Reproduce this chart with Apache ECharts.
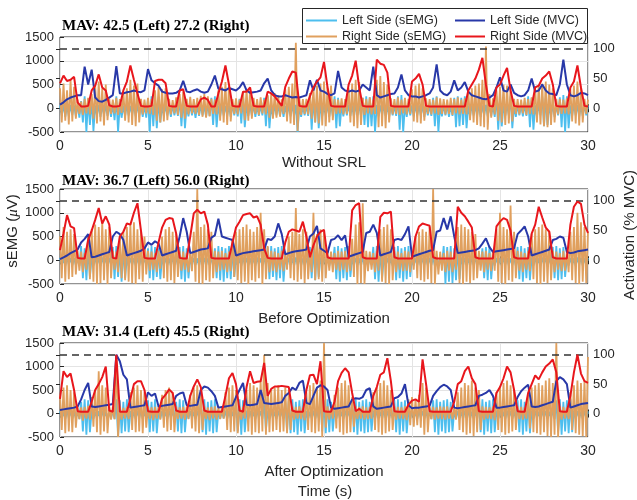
<!DOCTYPE html>
<html>
<head>
<meta charset="utf-8">
<script src="https://cdn.jsdelivr.net/npm/echarts@6/dist/echarts.min.js"></script>
<style>
  html, body { margin: 0; padding: 0; background: #fff; }
  #chart { width: 637px; height: 500px; }
</style>
</head>
<body>
<div id="chart"></div>
<script>
// Sampling steps (seconds) of the stored traces
const semgStep = 0.1;
const mvcStep = 0.2;
const mvcReference = 100; // 100 % MVC reference level

const panelLabels = ['Without SRL', 'Before Optimization', 'After Optimization'];
const mavLeft = [42.5, 36.7, 31.4];
const mavRight = [27.2, 56.0, 45.5];

// ---- Without SRL ----
const semgLeftNoSrl = [
  60,-150,80,-180,50,-160,70,-140,60,-170,
  80,-200,150,-300,250,-500,200,-350,220,-480,
  60,-150,70,-180,50,-140,60,-160,80,-180,
  100,-250,250,-500,80,-200,60,-160,70,-150,
  50,-140,60,-170,80,-150,60,-180,70,-200,
  200,-500,250,-380,220,-420,180,-300,60,-160,
  70,-150,60,-180,80,-150,60,-160,200,-380,
  250,-420,60,-170,80,-150,50,-200,60,-160,
  70,-150,60,-180,80,-160,220,-350,250,-400,
  60,-170,70,-150,50,-160,60,-180,80,-150,
  60,-170,200,-320,250,-400,70,-160,60,-150,
  80,-180,60,-160,70,-150,220,-380,250,-420,
  60,-170,80,-150,60,-160,70,-180,50,-150,
  60,-170,80,-160,70,-500,60,-180,50,-150,
  60,-160,250,-450,200,-300,240,-420,70,-170,
  60,-150,80,-180,70,-160,250,-420,220,-380,
  60,-170,70,-150,80,-160,60,-180,70,-150,
  60,-160,220,-350,250,-400,230,-380,250,-500,
  70,-170,60,-150,80,-160,60,-180,70,-150,
  60,-160,250,-450,280,-500,60,-180,70,-150,
  60,-170,80,-150,60,-160,70,-180,50,-150,
  60,-160,220,-380,250,-500,60,-170,80,-150,
  70,-180,60,-160,220,-400,250,-380,220,-350,
  250,-420,60,-170,80,-150,60,-160,70,-180,
  60,-150,70,-170,80,-160,60,-180,250,-450,
  220,-380,60,-160,70,-150,250,-420,60,-180,
  70,-150,60,-170,80,-160,250,-400,220,-450,
  60,-170,80,-150,250,-380,220,-350,60,-160,
  70,-180,60,-150,230,-400,280,-500,250,-420,
  60,-160,80,-150,70,-180,60,-160,80,-150,
  60
];
const semgRightNoSrl = [
  420,-300,520,-260,380,-340,600,-280,450,-220,
  180,-120,140,-140,200,-110,220,-130,300,-220,
  480,-320,560,-280,420,-360,500,-250,200,-120,
  180,-110,220,-140,190,-100,350,-260,420,-300,
  600,-350,480,-380,520,-300,200,-130,180,-110,
  220,-120,190,-140,380,-260,450,-300,400,-280,
  420,-250,200,-130,170,-110,230,-140,300,-200,
  350,-220,200,-130,240,-110,190,-120,220,-140,
  260,-180,300,-200,250,-170,200,-120,180,-130,
  380,-260,450,-300,550,-350,480,-280,190,-120,
  210,-130,180,-110,350,-250,400,-260,380,-220,
  220,-120,190,-140,230,-110,180,-130,280,-200,
  300,-220,320,-200,280,-180,190,-120,400,-280,
  450,-320,520,-350,1380,-480,210,-140,190,-120,
  200,-130,320,-220,420,-300,480,-320,520,-360,
  560,-380,450,-300,480,-250,190,-120,180,-110,
  210,-130,190,-120,420,-300,520,-380,600,-420,
  550,-350,220,-140,190,-110,230,-130,180,-120,
  600,-400,680,-380,550,-420,500,-300,210,-130,
  190,-120,230,-140,180,-110,220,-130,200,-120,
  400,-280,480,-300,520,-320,420,-260,210,-120,
  190,-130,180,-110,230,-140,210,-120,190,-130,
  180,-120,220,-140,190,-110,230,-130,180,-120,
  210,-130,350,-250,420,-300,480,-350,520,-380,
  600,-400,1300,-450,300,-200,210,-130,380,-260,
  450,-300,500,-350,480,-320,420,-280,200,-120,
  190,-130,180,-110,220,-140,190,-120,230,-130,
  420,-300,480,-340,520,-380,560,-400,500,-350,
  420,-300,200,-130,190,-120,180,-110,210,-130,
  400,-280,480,-320,560,-360,450,-300,200,-120,
  180
];
const mvcLeftNoSrl = [
  6,10,15,18,20, 22,22,70,40,65, 18,12,11,14,18, 22,71,25,25,27,
  28,30,28,27,30, 66,47,42,38,28, 26,25,25,26,30, 46,28,27,30,32,
  28,26,28,40,55, 33,32,30,34,32, 30,35,44,30,26, 27,28,30,42,50,
  30,22,20,20,22, 20,18,19,18,20, 22,47,30,48,30, 28,24,22,25,63,
  35,30,28,30,28, 30,40,35,30,70, 22,18,20,22,24, 25,35,57,30,22,
  20,20,18,20,22, 25,35,74,30,24, 22,28,47,30,35, 44,28,22,20,18,
  16,15,18,22,35, 52,30,28,40,26, 22,20,22,30,50, 28,30,40,30,25,
  24,22,40,82,40, 22,20,22,26,25, 22
];
const mvcRightNoSrl = [
  42,55,46,48,53, 10,3,3,4,30, 38,57,35,30,5, 3,3,4,30,45,
  72,48,25,4,3, 3,4,46,48,48, 42,4,3,3,30, 32,4,3,3,3,
  15,18,14,3,3, 25,45,72,40,4, 3,3,28,28,35, 4,3,3,3,28,
  25,20,12,4,36, 50,62,60,4,3, 3,20,35,45,52, 78,35,4,3,3,
  3,3,40,55,80, 35,4,3,3,3, 82,75,73,60,4, 3,3,3,3,3,
  45,50,58,40,4, 3,3,3,3,3, 3,3,3,3,3, 3,30,40,50,65,
  85,40,4,3,35, 40,55,68,30,4, 3,3,3,3,3, 35,38,50,55,62,
  40,4,3,3,3, 35,45,72,35,4, 3
];

// ---- Before Optimization ----
const semgLeftBefore = [
  50,-100,40,-120,60,-90,50,-110,40,-100,
  50,-120,300,-380,250,-420,280,-350,60,-110,
  40,-100,50,-120,60,-90,40,-110,50,-100,
  280,-400,300,-350,250,-450,280,-380,60,-120,
  50,-100,40,-110,60,-120,50,-90,40,-100,
  250,-380,300,-420,280,-350,250,-400,60,-110,
  50,-100,40,-120,60,-90,50,-110,280,-400,
  300,-450,250,-380,60,-110,50,-100,40,-120,
  60,-90,50,-110,40,-100,50,-120,250,-380,
  300,-420,280,-450,250,-380,300,-400,280,-350,
  50,-100,40,-120,60,-90,50,-110,40,-100,
  50,-120,60,-90,40,-110,50,-100,280,-400,
  300,-350,250,-420,280,-380,300,-450,60,-110,
  50,-100,40,-120,60,-90,50,-110,40,-100,
  50,-120,280,-380,300,-420,250,-350,60,-110,
  50,-100,40,-120,60,-90,280,-400,300,-450,
  250,-380,280,-420,300,-350,60,-110,50,-100,
  40,-120,60,-90,50,-110,40,-100,280,-400,
  300,-450,250,-380,60,-110,50,-100,40,-120,
  280,-420,300,-380,250,-450,280,-400,300,-350,
  50,-110,40,-100,60,-120,50,-90,40,-110,
  50,-100,60,-120,50,-90,40,-110,300,-500,
  280,-450,300,-480,250,-420,280,-400,60,-110,
  50,-100,40,-120,60,-90,50,-110,40,-100,
  250,-380,280,-420,300,-400,60,-110,50,-100,
  40,-120,60,-90,50,-110,40,-100,50,-120,
  280,-400,300,-450,250,-380,280,-420,60,-110,
  50,-100,40,-120,60,-90,50,-110,40,-100,
  280,-380,300,-420,250,-400,280,-350,60,-110,
  50,-100,40,-120,60,-90,50,-110,40,-100,
  50
];
const semgRightBefore = [
  500,-380,700,-450,600,-400,650,-350,550,-300,
  200,-220,180,-250,150,-200,550,-400,650,-450,
  750,-500,700,-480,800,-420,650,-500,700,-380,
  200,-200,180,-250,500,-380,600,-420,700,-450,
  750,-480,800,-500,650,-400,600,-450,500,-300,
  200,-220,180,-200,150,-250,200,-180,500,-380,
  650,-450,700,-420,600,-480,550,-350,200,-220,
  180,-200,150,-250,200,-230,600,-450,1500,-480,
  700,-500,750,-420,650,-450,600,-380,200,-250,
  180,-220,200,-200,150,-250,180,-230,450,-350,
  600,-420,650,-480,700,-450,750,-500,650,-420,
  600,-450,700,-380,1000,-500,650,-400,300,-250,
  200,-220,180,-250,150,-200,200,-230,180,-200,
  500,-380,600,-420,1100,-450,550,-400,650,-480,
  600,-400,200,-250,1000,-420,550,-400,650,-450,
  600,-380,200,-220,180,-250,150,-200,200,-230,
  180,-200,200,-250,150,-220,450,-350,750,-500,
  800,-480,1200,-500,200,-230,180,-200,150,-250,
  200,-220,650,-450,700,-480,750,-500,650,-420,
  200,-250,180,-200,150,-230,200,-220,180,-250,
  200,-200,500,-380,600,-420,650,-450,600,-400,
  700,-480,1500,-500,200,-300,180,-220,150,-250,
  200,-220,180,-250,150,-200,700,-480,750,-500,
  700,-450,650,-480,600,-420,550,-380,200,-220,
  180,-250,200,-200,150,-230,200,-220,650,-450,
  1000,-480,700,-500,650,-420,1150,-450,600,-380,
  200,-220,180,-250,150,-200,200,-230,550,-400,
  650,-480,700,-500,750,-450,650,-480,600,-420,
  200,-250,180,-200,150,-230,200,-220,180,-250,
  600,-420,700,-480,1000,-500,800,-450,700,-480,
  600
];
const mvcLeftBefore = [
  2,5,8,12,15, 18,30,36,44,5, 6,8,10,12,14, 40,48,44,34,8,
  10,12,14,16,20, 30,26,32,28,8, 10,12,14,16,40, 71,48,12,14,16,
  18,19,20,38,42, 70,40,38,36,34, 8,10,12,13,14, 15,16,17,18,36,
  34,40,62,44,10, 12,14,15,16,17, 18,40,45,58,20, 16,12,34,36,42,
  34,42,6,8,10, 12,14,46,48,60, 46,8,10,12,14, 34,36,34,44,57,
  6,8,10,12,14, 16,17,48,50,71, 52,74,40,12,13, 14,15,16,17,20,
  28,37,22,14,15, 16,17,18,19,20, 44,50,57,40,8, 10,12,14,16,18,
  34,36,40,38,14, 12,13,15,16,17, 18
];
const mvcRightBefore = [
  17,45,76,57,54, 4,3,3,34,50, 68,88,62,74,60, 4,3,40,48,62,
  60,80,96,50,4, 3,3,3,30,55, 68,71,70,45,4, 3,3,40,79,85,
  79,82,60,4,3, 3,3,3,3,30, 55,65,76,78,79, 72,74,60,20,4,
  3,3,3,3,30, 48,52,50,48,65, 40,5,25,40,48, 51,5,3,3,3,
  3,3,3,84,93, 96,5,3,3,3, 3,73,80,79,82, 5,3,3,3,3,
  3,40,57,62,60, 58,5,3,3,3, 3,3,3,90,80, 74,65,55,5,3,
  3,3,3,3,57, 65,71,68,50,5, 3,3,3,3,45, 60,90,72,55,48,
  5,3,3,3,3, 60,90,99,95,60, 46
];

// ---- After Optimization ----
const semgLeftAfter = [
  50,-100,40,-120,60,-90,50,-110,40,-100,
  50,-120,250,-380,300,-450,280,-400,60,-110,
  40,-100,50,-120,60,-90,40,-110,50,-100,
  60,-120,300,-500,280,-420,250,-380,300,-400,
  50,-100,40,-120,60,-90,50,-110,40,-100,
  280,-400,250,-380,300,-420,60,-110,50,-100,
  40,-120,60,-90,50,-110,250,-380,300,-420,
  280,-400,60,-110,50,-100,40,-120,60,-90,
  280,-400,300,-450,250,-380,280,-420,300,-400,
  50,-110,40,-100,60,-120,50,-90,40,-110,
  250,-380,300,-450,280,-400,60,-110,50,-100,
  40,-120,60,-90,50,-110,250,-350,60,-110,
  50,-100,40,-120,60,-90,50,-110,250,-380,
  280,-420,300,-400,250,-450,280,-380,300,-420,
  50,-110,40,-100,60,-120,50,-90,250,-380,
  280,-420,300,-400,250,-380,60,-110,50,-100,
  40,-120,60,-90,50,-110,280,-400,300,-450,
  250,-380,280,-420,300,-400,250,-380,60,-110,
  50,-100,40,-120,60,-90,50,-110,40,-100,
  280,-400,300,-450,250,-380,280,-420,60,-110,
  50,-100,40,-120,60,-90,50,-110,40,-100,
  50,-120,280,-400,300,-450,250,-380,280,-420,
  300,-400,250,-380,60,-110,50,-100,40,-120,
  60,-90,50,-110,40,-100,50,-120,280,-400,
  300,-450,250,-380,280,-420,300,-400,60,-110,
  50,-100,40,-120,60,-90,50,-110,40,-100,
  280,-400,300,-450,250,-380,280,-420,60,-110,
  50,-100,40,-120,60,-90,50,-110,40,-100,
  60,-120,280,-400,300,-450,250,-380,280,-420,
  300,-400,60,-110,50,-100,40,-120,60,-90,
  50
];
const semgRightAfter = [
  400,-350,550,-420,600,-380,500,-400,450,-300,
  150,-120,130,-150,140,-110,160,-130,350,-280,
  500,-400,900,-450,600,-380,550,-420,150,-130,
  140,-120,1250,-500,150,-130,120,-110,140,-120,
  450,-350,550,-400,600,-380,500,-420,450,-300,
  150,-120,130,-140,140,-110,160,-130,400,-300,
  500,-380,550,-350,450,-400,150,-120,130,-110,
  140,-130,150,-120,400,-320,550,-380,600,-420,
  500,-350,150,-120,130,-140,140,-110,150,-130,
  130,-120,140,-110,450,-350,550,-400,600,-380,
  500,-420,150,-130,140,-110,500,-380,650,-450,
  600,-400,550,-420,700,-380,1250,-450,650,-400,
  500,-380,550,-350,600,-400,500,-380,550,-420,
  500,-350,150,-130,140,-110,150,-120,130,-140,
  450,-350,600,-400,650,-420,550,-380,700,-500,
  1500,-300,150,-130,140,-110,400,-320,550,-400,
  650,-450,700,-420,600,-400,350,-280,150,-120,
  140,-110,150,-130,130,-120,140,-110,450,-350,
  550,-400,650,-450,700,-420,600,-380,500,-350,
  150,-130,140,-110,130,-120,150,-140,300,-250,
  350,-280,300,-250,400,-300,650,-450,550,-400,
  150,-120,140,-130,130,-110,150,-120,140,-130,
  150,-110,130,-120,140,-130,450,-350,550,-400,
  650,-450,600,-420,700,-480,550,-400,500,-350,
  150,-130,140,-110,130,-120,150,-140,450,-350,
  550,-400,650,-450,700,-420,600,-380,500,-350,
  150,-120,140,-130,130,-110,400,-320,550,-400,
  600,-420,650,-450,600,-400,700,-480,750,-500,
  650,-450,1500,-500,150,-130,140,-110,130,-120,
  450,-350,600,-420,700,-450,650,-480,700,-500,
  1200
];
const mvcLeftAfter = [
  6,7,8,9,10, 12,24,40,52,12, 11,12,13,14,15, 16,100,89,66,58,
  10,11,12,13,14, 36,30,34,12,13, 14,15,16,30,34, 36,14,13,14,15,
  40,46,44,38,30, 10,11,12,13,14, 28,40,52,15,14, 15,16,40,18,17,
  16,17,18,19,30, 35,44,40,52,56, 18,16,30,44,48, 46,40,10,8,9,
  10,11,12,24,26, 25,28,40,43,12, 8,9,10,11,12, 26,28,34,50,14,
  9,10,10,11,12, 13,30,38,45,49, 46,40,10,9,10, 11,12,13,14,30,
  32,35,40,30,10, 10,11,12,13,14, 28,38,44,49,12, 11,12,14,16,18,
  20,55,62,58,50, 10,12,14,16,17, 18
];
const mvcRightAfter = [
  25,72,62,68,40, 4,3,3,3,20, 40,50,62,80,5, 3,100,3,3,3,
  25,50,55,55,40, 4,3,3,3,25, 32,41,35,5,3, 3,3,30,46,58,
  45,5,3,3,3, 3,3,30,60,69, 50,5,3,45,72, 52,54,55,86,30,
  42,46,46,47,46, 45,5,3,3,3, 40,65,66,50,89, 4,3,3,20,55,
  69,77,70,35,4, 8,3,3,3,30, 45,66,70,94,55, 4,3,3,3,15,
  22,24,20,92,50, 4,3,3,3,3, 3,3,20,50,55, 72,80,60,50,4,
  3,3,3,3,35, 45,60,80,70,40, 4,3,3,35,50, 65,58,70,80,85,
  92,70,4,3,3, 30,70,100,68,55, 52
];

const panels = [
  { label: panelLabels[0], mavL: mavLeft[0], mavR: mavRight[0],
    semgL: semgLeftNoSrl, semgR: semgRightNoSrl, mvcL: mvcLeftNoSrl, mvcR: mvcRightNoSrl },
  { label: panelLabels[1], mavL: mavLeft[1], mavR: mavRight[1],
    semgL: semgLeftBefore, semgR: semgRightBefore, mvcL: mvcLeftBefore, mvcR: mvcRightBefore },
  { label: panelLabels[2], mavL: mavLeft[2], mavR: mavRight[2],
    semgL: semgLeftAfter, semgR: semgRightAfter, mvcL: mvcLeftAfter, mvcR: mvcRightAfter }
];

// Layout and styling
const colors = {
  cyan: '#4DBEEE', orange: '#E0A05E', blue: '#2838A8', red: '#E8161C',
  axis: '#262626', grid: '#E4E4E4', ref: '#333333'
};
const gridLeft = 60, gridWidth = 528;
const gridTops = [37, 189, 343];
const gridHeights = [95, 95, 94];
const titleYs = [26, 181, 332];
const xLabelYs = [163, 318.5, 472];
const sansFont = '"Liberation Sans", Arial, Helvetica, sans-serif';
const plainNumber = v => String(v);

function toPoints(values, step) {
  return values.map((v, i) => [Math.round(i * step * 100) / 100, v]);
}

const grids = [], xAxes = [], yAxes = [], series = [], graphics = [];

panels.forEach((p, i) => {
  grids.push({
    left: gridLeft, top: gridTops[i], width: gridWidth, height: gridHeights[i],
    show: true, borderColor: colors.axis, borderWidth: 1, backgroundColor: 'transparent'
  });
  const tickStyle = { show: true, inside: true, length: 4, lineStyle: { color: colors.axis, width: 1 } };
  xAxes.push({
    type: 'value', gridIndex: i, min: 0, max: 30, interval: 5, position: 'bottom',
    axisLine: { show: false }, axisTick: tickStyle,
    axisLabel: { fontSize: 14, color: colors.axis, margin: 7, fontFamily: sansFont, formatter: plainNumber },
    splitLine: { show: true, lineStyle: { color: colors.grid, width: 1 } }
  });
  xAxes.push({
    type: 'value', gridIndex: i, min: 0, max: 30, interval: 5, position: 'top',
    axisLine: { show: false }, axisTick: tickStyle,
    axisLabel: { show: false }, splitLine: { show: false }
  });
  yAxes.push({
    type: 'value', gridIndex: i, min: -500, max: 1500, interval: 500, position: 'left',
    axisLine: { show: false }, axisTick: tickStyle,
    axisLabel: { fontSize: 13, color: colors.axis, margin: 6, fontFamily: sansFont, formatter: plainNumber },
    splitLine: { show: true, lineStyle: { color: colors.grid, width: 1 } }
  });
  yAxes.push({
    type: 'value', gridIndex: i, min: -40, max: 120, position: 'right',
    axisLine: { show: false },
    axisTick: { show: true, inside: true, length: 4, customValues: [0, 50, 100],
                lineStyle: { color: colors.axis, width: 1 } },
    axisLabel: { fontSize: 13, color: colors.axis, margin: 5, fontFamily: sansFont,
                 customValues: [0, 50, 100], formatter: plainNumber },
    splitLine: { show: false }
  });

  const common = { type: 'line', symbol: 'none', silent: true, animation: false,
                   emphasis: { disabled: true }, xAxisIndex: 2 * i };
  series.push(Object.assign({}, common, {
    name: 'Left Side (sEMG)', yAxisIndex: 2 * i, z: 2,
    data: toPoints(p.semgL, semgStep),
    lineStyle: { color: colors.cyan, width: 1.8 }, itemStyle: { color: colors.cyan }
  }));
  series.push(Object.assign({}, common, {
    name: 'Right Side (sEMG)', yAxisIndex: 2 * i, z: 3,
    data: toPoints(p.semgR, semgStep),
    lineStyle: { color: colors.orange, width: 1.8 }, itemStyle: { color: colors.orange }
  }));
  series.push(Object.assign({}, common, {
    name: 'Left Side (MVC)', yAxisIndex: 2 * i + 1, z: 4,
    data: toPoints(p.mvcL, mvcStep),
    lineStyle: { color: colors.blue, width: 2 }, itemStyle: { color: colors.blue },
    markLine: {
      silent: true, symbol: ['none', 'none'], label: { show: false }, animation: false,
      lineStyle: { color: colors.ref, type: [7, 5], width: 1.5 },
      data: [{ yAxis: mvcReference }]
    }
  }));
  series.push(Object.assign({}, common, {
    name: 'Right Side (MVC)', yAxisIndex: 2 * i + 1, z: 5,
    data: toPoints(p.mvcR, mvcStep),
    lineStyle: { color: colors.red, width: 2 }, itemStyle: { color: colors.red }
  }));

  graphics.push({
    type: 'text', x: 62, y: titleYs[i], z: 50,
    style: { text: 'MAV: ' + p.mavL.toFixed(1) + ' (Left) ' + p.mavR.toFixed(1) + ' (Right)',
             fill: '#000', font: 'bold 15px "Liberation Serif", "Times New Roman", serif',
             align: 'left', verticalAlign: 'middle' }
  });
  graphics.push({
    type: 'text', x: 324, y: xLabelYs[i], z: 50,
    style: { text: p.label, fill: colors.axis, font: '15px ' + sansFont,
             align: 'center', verticalAlign: 'middle' }
  });
});

graphics.push({
  type: 'text', x: 325, y: 492, z: 50,
  style: { text: 'Time (s)', fill: colors.axis, font: '15px ' + sansFont,
           align: 'center', verticalAlign: 'middle' }
});
graphics.push({
  type: 'text', x: 13, y: 231, rotation: Math.PI / 2, z: 50,
  style: {
    text: '{n|sEMG (}{g|μ}{n|V)}', align: 'center', verticalAlign: 'middle',
    rich: {
      n: { fontSize: 15, fontFamily: sansFont, fill: colors.axis, color: colors.axis },
      g: { fontSize: 15, fontFamily: '"Liberation Serif", serif', fontStyle: 'italic',
           fill: colors.axis, color: colors.axis }
    }
  }
});
graphics.push({
  type: 'text', x: 630, y: 235, rotation: Math.PI / 2, z: 50,
  style: { text: 'Activation (% MVC)', fill: colors.axis, font: '15px ' + sansFont,
           align: 'center', verticalAlign: 'middle' }
});
// legend frame
graphics.push({
  type: 'rect', z: 100,
  shape: { x: 302.5, y: 8.5, width: 285, height: 35 },
  style: { fill: '#fff', stroke: colors.axis, lineWidth: 1 }
});

const legendText = { fontSize: 12.5, color: colors.axis, fontFamily: sansFont };
const legendBase = {
  top: 14, orient: 'vertical', itemHeight: 12, itemGap: 3, padding: 0, z: 200,
  selectedMode: false, textStyle: legendText,
  itemStyle: { opacity: 0 }   // plain line samples, no marker
};
const option = {
  backgroundColor: '#fff',
  animation: false,
  textStyle: { fontFamily: sansFont },
  grid: grids,
  xAxis: xAxes,
  yAxis: yAxes,
  series: series,
  graphic: { elements: graphics },
  legend: [
    Object.assign({}, legendBase, { left: 305, itemWidth: 31,
      data: ['Left Side (sEMG)', 'Right Side (sEMG)'] }),
    Object.assign({}, legendBase, { left: 454, itemWidth: 30,
      data: ['Left Side (MVC)', 'Right Side (MVC)'] })
  ]
};

const chart = echarts.init(document.getElementById('chart'), null, { renderer: 'canvas' });
chart.setOption(option);
</script>
</body>
</html>
